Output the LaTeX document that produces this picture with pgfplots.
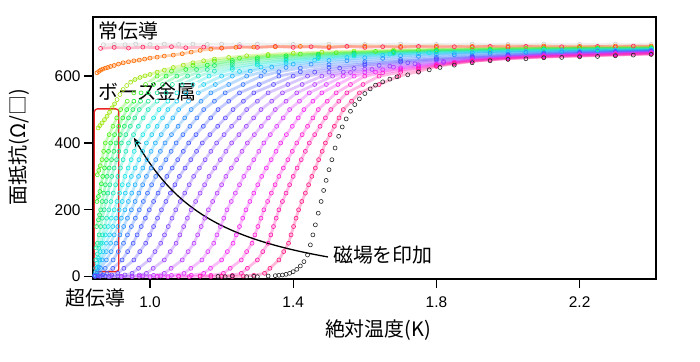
\documentclass[border=0pt]{standalone}
\usepackage{fontspec}
\setmainfont{Liberation Sans}
\newfontfamily\jp{Noto Sans CJK JP}
\usepackage{pgfplots}
\pgfplotsset{compat=1.18}
\usetikzlibrary{arrows.meta}
\definecolor{c1}{Hsb}{332,0.9,1}
\definecolor{c2}{Hsb}{322,0.9,1}
\definecolor{c3}{Hsb}{312,0.88,1}
\definecolor{c4}{Hsb}{300,0.85,0.95}
\definecolor{c5}{Hsb}{288,0.8,1}
\definecolor{c6}{Hsb}{278,0.78,1}
\definecolor{c7}{Hsb}{268,0.75,1}
\definecolor{c8}{Hsb}{258,0.72,1}
\definecolor{c9}{Hsb}{246,0.72,1}
\definecolor{c10}{Hsb}{234,0.75,1}
\definecolor{c11}{Hsb}{222,0.8,1}
\definecolor{c12}{Hsb}{211,0.85,1}
\definecolor{c13}{Hsb}{200,0.88,1}
\definecolor{c14}{Hsb}{190,0.9,0.95}
\definecolor{c15}{Hsb}{180,0.9,0.9}
\definecolor{c16}{Hsb}{168,0.9,0.9}
\definecolor{c17}{Hsb}{155,0.9,0.9}
\definecolor{c18}{Hsb}{140,0.9,0.92}
\definecolor{c19}{Hsb}{125,0.9,0.95}
\definecolor{c20}{Hsb}{105,0.9,0.95}
\definecolor{c21}{Hsb}{80,0.95,0.9}
\definecolor{c22}{Hsb}{25,1,1}
\definecolor{c23}{Hsb}{345,0.85,1}
\definecolor{c24}{gray}{0.8}
\definecolor{c0}{gray}{0.15}
\definecolor{boxred}{RGB}{235,35,35}
\begin{document}
\begin{tikzpicture}
\begin{axis}[
  scale only axis, width=563bp, height=262bp,
  xmin=0.8408, xmax=2.4134, ymin=-7, ymax=777,
  clip=false,
  axis line style={line width=1.3bp, black},
  xtick={1.0,1.4,1.8,2.2}, xticklabels={1.0,1.4,1.8,2.2},
  ytick={0,200,400,600},
  tick align=outside, tick pos=left,
  major tick length=9bp,
  every tick/.style={line width=1.3bp, black},
  /pgf/number format/assume math mode=true,
  ticklabel style={font=\fontsize{15.5}{18}\selectfont},
  xticklabel shift=5bp,
  every axis plot/.append style={sharp plot, mark=o, mark size=2bp, line width=2.8bp, draw opacity=0.3, mark options={line width=0.6bp, draw opacity=1}},
]
\addplot[c24] coordinates {(0.87,694)(0.9,695)(0.93,694)(0.96,696)(1.0,695)(1.04,696)(1.08,695)(1.12,696)(1.16,695)(1.2,696)(1.25,695)(1.3,696)(1.4,695)(1.5,696)(1.6,695)(1.7,696)(1.8,695)(1.9,696)(2.0,695)(2.1,696)(2.2,695)(2.3,696)(2.4,695)};
\addplot[c23] coordinates {(0.862,683)(0.9,686)(0.94,684)(0.98,687)(1.02,685)(1.06,688)(1.1,685)(1.15,687)(1.2,684)(1.25,688)(1.3,686)(1.35,689)(1.4,686)(1.45,688)(1.5,685)(1.55,689)(1.6,686)(1.65,688)(1.7,686)(1.75,689)(1.8,686)(1.85,688)(1.9,687)(1.95,689)(2.0,686)(2.05,689)(2.1,687)(2.15,688)(2.2,686)(2.25,689)(2.3,687)(2.35,690)(2.4,688)};
\addplot[c22] coordinates {(0.852,610)(0.857,614)(0.862,618)(0.868,621)(0.875,624)(0.882,626)(0.89,629)(0.9,632)(0.912,636)(0.925,640)(0.94,643)(0.955,646)(0.97,648)(0.985,651)(1.0,654)(1.02,657)(1.04,660)(1.065,663)(1.09,667)(1.115,672)(1.14,677)(1.17,681)(1.2,684)(1.24,686)(1.29,687)(1.35,688)(1.42,689)(1.5,688)(1.6,690)(1.7,689)(1.8,690)(1.9,689)(2.0,690)(2.1,690)(2.2,689)(2.3,690)(2.4,690)};
\addplot[c21] coordinates {(0.855,445)(0.86,452)(0.866,460)(0.873,470)(0.88,480)(0.887,492)(0.894,505)(0.901,517)(0.908,530)(0.916,545)(0.925,560)(0.935,572)(0.946,582)(0.958,590)(0.972,596)(0.986,601)(1.0,605)(1.02,612)(1.04,618)(1.065,626)(1.093,633)(1.12,640)(1.15,646)(1.18,651)(1.22,656)(1.27,661)(1.33,665)(1.4,669)(1.48,672)(1.57,675)(1.68,678)(1.8,680)(1.95,682)(2.1,684)(2.25,685)(2.4,686)};
\addplot[c20] coordinates {(0.853,305)(0.857,318)(0.861,332)(0.866,350)(0.8705,375)(0.875,400)(0.886,425)(0.8965,450)(0.907,475)(0.918,500)(0.9365,525)(0.955,550)(0.9875,575)(1.02,600)(1.06,615)(1.12,632)(1.18,645)(1.25,654)(1.33,661)(1.42,666)(1.52,670)(1.63,674)(1.75,678)(1.9,681)(2.05,683)(2.2,684)(2.4,685)};
\addplot[c19] coordinates {(0.852,225)(0.856,240)(0.86,255)(0.864,278)(0.868,300)(0.873,325)(0.8785,350)(0.884,375)(0.89,400)(0.901,425)(0.9125,450)(0.924,475)(0.935,500)(0.955,525)(0.975,550)(1.01,575)(1.045,600)(1.1,620)(1.16,633)(1.23,647)(1.3,655)(1.38,661)(1.47,666)(1.57,670)(1.68,674)(1.8,677)(1.95,680)(2.1,682)(2.25,683)(2.4,684)};
\addplot[c18] coordinates {(0.851,150)(0.856,170)(0.859,185)(0.862,200)(0.8665,225)(0.871,250)(0.8755,275)(0.88,300)(0.886,325)(0.8925,350)(0.899,375)(0.905,400)(0.917,425)(0.9285,450)(0.94,475)(0.952,500)(0.9735,525)(0.995,550)(1.035,575)(1.075,600)(1.13,620)(1.18,632)(1.23,641)(1.3,650)(1.38,657)(1.47,663)(1.57,668)(1.68,672)(1.8,676)(1.95,679)(2.1,681)(2.25,682)(2.4,683)};
\addplot[c17] coordinates {(0.85,86)(0.853,100)(0.8578,125)(0.8625,150)(0.867,175)(0.872,200)(0.877,225)(0.8825,250)(0.8878,275)(0.893,300)(0.8998,325)(0.9065,350)(0.913,375)(0.92,400)(0.9325,425)(0.945,450)(0.9575,475)(0.97,500)(0.995,525)(1.02,550)(1.0625,575)(1.105,600)(1.16,620)(1.23,634)(1.3,644)(1.38,652)(1.47,659)(1.57,665)(1.68,670)(1.8,674)(1.95,677)(2.1,679)(2.25,681)(2.4,682)};
\addplot[c16] coordinates {(0.849,50)(0.853,68)(0.857,85)(0.862,100)(0.8675,125)(0.8735,150)(0.879,175)(0.885,200)(0.891,225)(0.8975,250)(0.904,275)(0.91,300)(0.9175,325)(0.925,350)(0.9325,375)(0.94,400)(0.954,425)(0.9675,450)(0.981,475)(0.995,500)(1.02,525)(1.045,550)(1.09,575)(1.135,600)(1.18,615)(1.23,626)(1.3,638)(1.38,648)(1.47,656)(1.57,663)(1.68,668)(1.8,672)(1.95,675)(2.1,678)(2.25,680)(2.4,681)};
\addplot[c15] coordinates {(0.848,25)(0.852,40)(0.856,55)(0.861,75)(0.867,100)(0.875,125)(0.8835,150)(0.892,175)(0.9,200)(0.9075,225)(0.915,250)(0.9225,275)(0.93,300)(0.939,325)(0.9475,350)(0.956,375)(0.965,400)(0.98,425)(0.995,450)(1.01,475)(1.025,500)(1.05,525)(1.075,550)(1.12,575)(1.165,600)(1.23,620)(1.3,633)(1.38,644)(1.47,653)(1.57,660)(1.67,666)(1.78,670)(1.9,673)(2.0,675)(2.1,677)(2.2,678)(2.3,679)(2.4,680)};
\addplot[c14] coordinates {(0.848,14)(0.853,28)(0.86,50)(0.869,75)(0.878,100)(0.887,125)(0.896,150)(0.905,175)(0.914,200)(0.9225,225)(0.931,250)(0.9395,275)(0.948,300)(0.9585,325)(0.969,350)(0.9795,375)(0.99,400)(1.005,425)(1.02,450)(1.035,475)(1.05,500)(1.075,525)(1.1,550)(1.15,575)(1.2,600)(1.25,614)(1.31,627)(1.38,638)(1.46,648)(1.55,656)(1.65,662)(1.75,667)(1.85,670)(1.95,673)(2.05,675)(2.15,677)(2.25,678)(2.4,679)};
\addplot[c13] coordinates {(0.847,6)(0.852,15)(0.858,28)(0.866,50)(0.878,75)(0.89,100)(0.9,125)(0.91,150)(0.92,175)(0.93,200)(0.9395,225)(0.949,250)(0.9585,275)(0.968,300)(0.98,325)(0.9915,350)(1.003,375)(1.015,400)(1.0313,425)(1.0475,450)(1.0638,475)(1.08,500)(1.1075,525)(1.135,550)(1.1825,575)(1.23,600)(1.28,615)(1.34,627)(1.4,636)(1.5,647)(1.6,655)(1.7,661)(1.8,665)(1.9,669)(2.0,671)(2.1,673)(2.2,675)(2.3,677)(2.4,678)};
\addplot[c12] coordinates {(0.845,4)(0.852,10)(0.862,25)(0.878,50)(0.8915,75)(0.905,100)(0.916,125)(0.9265,150)(0.937,175)(0.948,200)(0.9585,225)(0.969,250)(0.9795,275)(0.99,300)(1.003,325)(1.016,350)(1.029,375)(1.042,400)(1.06,425)(1.0785,450)(1.097,475)(1.115,500)(1.1425,525)(1.17,550)(1.22,575)(1.27,600)(1.32,614)(1.38,626)(1.45,636)(1.55,646)(1.65,653)(1.75,659)(1.85,664)(1.95,668)(2.05,671)(2.15,673)(2.25,675)(2.4,677)};
\addplot[c11] coordinates {(0.846,2)(0.854,5)(0.862,10)(0.875,25)(0.897,50)(0.9115,75)(0.926,100)(0.937,125)(0.948,150)(0.959,175)(0.97,200)(0.9815,225)(0.993,250)(1.0045,275)(1.016,300)(1.03,325)(1.0445,350)(1.059,375)(1.073,400)(1.092,425)(1.1115,450)(1.131,475)(1.15,500)(1.18,525)(1.21,550)(1.26,575)(1.31,600)(1.36,613)(1.42,624)(1.5,634)(1.6,643)(1.7,650)(1.8,656)(1.9,661)(2.0,665)(2.1,669)(2.2,672)(2.3,674)(2.4,676)};
\addplot[c10] coordinates {(0.846,1)(0.855,2)(0.868,5)(0.88,10)(0.896,25)(0.922,50)(0.9375,75)(0.953,100)(0.964,125)(0.9755,150)(0.987,175)(0.998,200)(1.01,225)(1.0225,250)(1.035,275)(1.047,300)(1.062,325)(1.0775,350)(1.093,375)(1.108,400)(1.1285,425)(1.149,450)(1.1695,475)(1.19,500)(1.22,525)(1.25,550)(1.305,575)(1.36,600)(1.42,613)(1.5,626)(1.6,637)(1.7,645)(1.8,652)(1.9,658)(2.0,663)(2.1,667)(2.2,670)(2.3,673)(2.4,675)};
\addplot[c9] coordinates {(0.848,1)(0.862,2)(0.875,2)(0.893,5)(0.91,10)(0.927,25)(0.955,50)(0.9715,75)(0.988,100)(0.999,125)(1.01,150)(1.021,175)(1.032,200)(1.0445,225)(1.057,250)(1.0695,275)(1.082,300)(1.098,325)(1.114,350)(1.13,375)(1.146,400)(1.1675,425)(1.189,450)(1.2105,475)(1.232,500)(1.261,525)(1.29,550)(1.345,575)(1.4,600)(1.46,612)(1.53,624)(1.6,633)(1.7,642)(1.8,649)(1.9,656)(2.0,661)(2.1,665)(2.2,668)(2.3,671)(2.4,674)};
\addplot[c8] coordinates {(0.86,1)(0.885,0)(0.91,2)(0.93,5)(0.95,10)(0.968,25)(0.998,50)(1.014,75)(1.03,100)(1.0405,125)(1.051,150)(1.0615,175)(1.072,200)(1.0845,225)(1.097,250)(1.1095,275)(1.122,300)(1.138,325)(1.154,350)(1.17,375)(1.186,400)(1.207,425)(1.228,450)(1.249,475)(1.27,500)(1.30,525)(1.33,550)(1.385,575)(1.44,600)(1.5,612)(1.57,623)(1.64,632)(1.72,640)(1.8,647)(1.9,654)(2.0,659)(2.1,664)(2.2,667)(2.3,670)(2.4,673)};
\addplot[c7] coordinates {(0.89,1)(0.92,0)(0.95,2)(0.97,5)(0.99,10)(1.009,25)(1.04,50)(1.0565,75)(1.073,100)(1.0835,125)(1.094,150)(1.1045,175)(1.115,200)(1.1275,225)(1.14,250)(1.1525,275)(1.165,300)(1.181,325)(1.1965,350)(1.212,375)(1.228,400)(1.2485,425)(1.269,450)(1.2895,475)(1.31,500)(1.34,525)(1.37,550)(1.425,575)(1.48,600)(1.54,612)(1.6,621)(1.67,630)(1.74,637)(1.82,644)(1.9,652)(2.0,658)(2.1,663)(2.2,666)(2.3,669)(2.4,672)};
\addplot[c6] coordinates {(0.92,1)(0.95,0)(0.98,2)(1.01,4)(1.04,10)(1.059,25)(1.09,50)(1.1065,75)(1.123,100)(1.133,125)(1.143,150)(1.153,175)(1.163,200)(1.175,225)(1.1875,250)(1.2,275)(1.212,300)(1.227,325)(1.242,350)(1.257,375)(1.272,400)(1.2915,425)(1.311,450)(1.3305,475)(1.35,500)(1.38,525)(1.41,550)(1.46,575)(1.51,600)(1.56,611)(1.62,620)(1.68,627)(1.75,634)(1.82,641)(1.9,650)(2.0,657)(2.1,662)(2.2,665)(2.3,668)(2.4,671)};
\addplot[c5] coordinates {(0.97,1)(1.0,0)(1.03,2)(1.06,4)(1.095,10)(1.114,25)(1.145,50)(1.1615,75)(1.178,100)(1.187,125)(1.197,150)(1.206,175)(1.215,200)(1.227,225)(1.2385,250)(1.25,275)(1.262,300)(1.276,325)(1.29,350)(1.304,375)(1.318,400)(1.336,425)(1.354,450)(1.372,475)(1.39,500)(1.4175,525)(1.445,550)(1.4925,575)(1.54,600)(1.6,612)(1.65,619)(1.7,625)(1.75,631)(1.8,637)(1.9,649)(2.0,656)(2.1,661)(2.2,664)(2.3,667)(2.4,670)};
\addplot[c4] coordinates {(1.02,1)(1.05,0)(1.08,2)(1.115,4)(1.15,10)(1.169,25)(1.2,50)(1.216,75)(1.232,100)(1.241,125)(1.25,150)(1.259,175)(1.268,200)(1.279,225)(1.29,250)(1.301,275)(1.312,300)(1.325,325)(1.3385,350)(1.352,375)(1.365,400)(1.381,425)(1.3975,450)(1.414,475)(1.43,500)(1.455,525)(1.48,550)(1.525,575)(1.57,600)(1.63,612)(1.7,622)(1.75,628)(1.8,635)(1.85,642)(1.9,648)(2.0,655)(2.1,660)(2.2,663)(2.3,666)(2.4,669)};
\addplot[c3] coordinates {(1.08,1)(1.11,0)(1.14,2)(1.17,4)(1.205,10)(1.224,25)(1.255,50)(1.27,75)(1.285,100)(1.293,125)(1.3015,150)(1.31,175)(1.318,200)(1.3285,225)(1.339,250)(1.3495,275)(1.36,300)(1.3725,325)(1.385,350)(1.3975,375)(1.41,400)(1.425,425)(1.44,450)(1.455,475)(1.47,500)(1.495,525)(1.52,550)(1.56,575)(1.6,600)(1.65,610)(1.7,618)(1.75,625)(1.8,633)(1.85,640)(1.9,646)(2.0,654)(2.1,659)(2.2,662)(2.3,665)(2.4,668)};
\addplot[c2] coordinates {(1.14,1)(1.17,0)(1.20,2)(1.23,4)(1.255,10)(1.272,25)(1.30,50)(1.315,75)(1.33,100)(1.3375,125)(1.345,150)(1.3525,175)(1.36,200)(1.37,225)(1.38,250)(1.39,275)(1.40,300)(1.411,325)(1.4225,350)(1.434,375)(1.445,400)(1.46,425)(1.475,450)(1.49,475)(1.505,500)(1.5275,525)(1.55,550)(1.595,575)(1.64,600)(1.7,612)(1.75,621)(1.8,631)(1.85,639)(1.9,645)(2.0,653)(2.1,658)(2.2,661)(2.3,664)(2.4,667)};
\addplot[c1] coordinates {(1.20,1)(1.23,0)(1.26,2)(1.29,4)(1.32,10)(1.335,25)(1.36,50)(1.3735,75)(1.387,100)(1.394,125)(1.401,150)(1.408,175)(1.415,200)(1.424,225)(1.434,250)(1.443,275)(1.452,300)(1.462,325)(1.471,350)(1.481,375)(1.49,400)(1.503,425)(1.515,450)(1.528,475)(1.54,500)(1.563,525)(1.585,550)(1.64,575)(1.695,600)(1.75,614)(1.8,629)(1.85,637)(1.9,644)(1.95,649)(2.0,652)(2.1,657)(2.2,660)(2.3,663)(2.4,666)};
\addplot[c0, only marks] coordinates {(1.19,1)(1.21,0)(1.23,2)(1.27,0)(1.29,1)(1.30,0)(1.33,2)(1.35,3)(1.36,4)(1.37,5)(1.38,7)(1.39,10)(1.40,15)(1.41,22)(1.42,32)(1.43,45)(1.44,65)(1.448,95)(1.455,125)(1.462,155)(1.47,190)(1.478,225)(1.485,258)(1.492,288)(1.50,320)(1.508,350)(1.517,385)(1.527,420)(1.537,448)(1.548,472)(1.56,495)(1.572,515)(1.585,532)(1.60,548)(1.615,562)(1.63,573)(1.65,583)(1.67,591)(1.69,598)(1.72,604)(1.75,612)(1.78,619)(1.81,626)(1.85,633)(1.9,640)(1.95,646)(2.0,650)(2.05,652)(2.1,655)(2.15,656)(2.2,658)(2.25,659)(2.3,661)(2.35,663)(2.4,665)};
% annotations
\draw[boxred, line width=1.3bp, rounded corners=3bp] (axis cs:0.8445,15) rectangle (axis cs:0.913,502);
\draw[line width=1.3bp, -{Stealth[length=9bp,width=7bp]}] (axis cs:1.497,59) .. controls (axis cs:1.1955,116) and (axis cs:1.067,208) .. (axis cs:0.955,416);
\node[anchor=west, inner sep=0pt, font=\jp\fontsize{20}{24}\selectfont] at (axis cs:0.8547,734) {常伝導};
\node[anchor=west, inner sep=1bp, fill=white, font=\jp\fontsize{20}{24}\selectfont] at (axis cs:0.852,553) {ボーズ金属};
\node[anchor=center, inner sep=0pt, font=\jp\fontsize{20}{24}\selectfont] at (axis cs:0.8478,-64) {超伝導};
\node[anchor=west, inner sep=0pt, font=\jp\fontsize{20}{24}\selectfont] at (axis cs:1.511,65) {磁場を印加};
\node[anchor=center, inner sep=0pt, font=\jp\fontsize{20}{24}\selectfont] at (axis cs:1.637,-159) {絶対温度(K)};
\node[anchor=center, inner sep=0pt, rotate=90, font=\jp\fontsize{20}{24}\selectfont] at (axis cs:0.634,388) {面抵抗(Ω/□)};
\coordinate (bl) at (rel axis cs:0,0);
\coordinate (tr) at (rel axis cs:1,1);
\end{axis}
\pgfresetboundingbox
\path[use as bounding box] ([xshift=-93bp,yshift=-83bp]bl) rectangle ([xshift=44bp,yshift=17bp]tr);
\end{tikzpicture}
\end{document}
